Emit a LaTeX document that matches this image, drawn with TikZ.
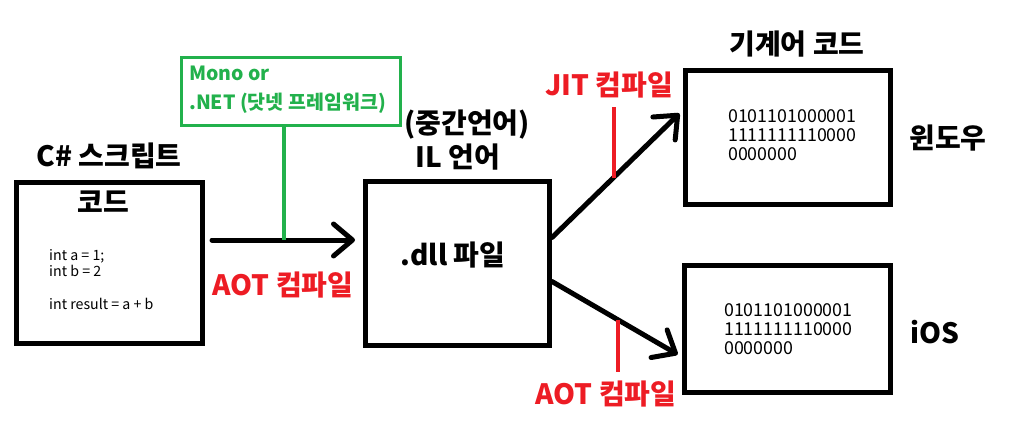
\documentclass[tikz,border=0pt]{standalone}
\usepackage{fontspec}
\setmainfont{Noto Sans CJK KR}
\usetikzlibrary{arrows.meta,positioning}
\definecolor{paintred}{HTML}{ED1C24}
\definecolor{paintgreen}{HTML}{22B14C}

\begin{document}
\begin{tikzpicture}[x=1pt,y=-1pt,
  box/.style={draw,line width=5pt,inner sep=0pt},
  monobox/.style={draw=paintgreen,line width=3.5pt,inner sep=0pt},
  title/.style={font=\bfseries\fontsize{28}{32}\selectfont,inner sep=1pt},
  redlbl/.style={title,text=paintred},
  greenlbl/.style={font=\bfseries\fontsize{19.5}{22}\selectfont,text=paintgreen,anchor=west,inner sep=0pt},
  codetxt/.style={font=\fontsize{14.2}{16.5}\selectfont,align=left,anchor=north west,inner sep=0pt},
  bintxt/.style={font=\fontsize{17.8}{19}\selectfont,align=left,anchor=north west,inner sep=0pt},
  arr/.style={line width=5pt,line cap=round,-{Straight Barb[length=19pt,width=32pt,round]}},
  tick/.style={draw=paintred,line width=4pt}]
  \useasboundingbox (0,0) rectangle (1013,431);

  % boxes
  \node[box,minimum width=186pt,minimum height=161pt] (code) at (109,262.5) {};
  \node[box,minimum width=184pt,minimum height=164pt] (dll) at (457.5,263.5) {};
  \node[box,minimum width=205pt,minimum height=134pt] (win) at (788,137.5) {};
  \node[box,minimum width=206pt,minimum height=127pt] (ios) at (787.5,329) {};
  \node[monobox,minimum width=219pt,minimum height=68pt] (mono) at (291,91.5) {};

  % titles and texts
  \node[title] (cstitle) at (109,156) {C\# 스크립트};
  \node[title] (codetitle) at (103,202) {코드};
  \node[codetxt] (codebody) at (49,249) {int a = 1;\\int b = 2\\[16pt]int result = a + b};
  \node[greenlbl] (monotxt) at (189,73) {Mono or};
  \node[greenlbl] (nettxt) at (189,103) {.NET (닷넷 프레임워크)};
  \node[title] (midlang) at (467,125) {(중간언어)};
  \node[title] (illang) at (458,157) {IL 언어};
  \node[title] (dlltxt) at (453,255) {.dll 파일};
  \node[title] (machine) at (797,44) {기계어 코드};
  \node[bintxt] (winbin) at (728,109) {0101101000001\\1111111110000\\0000000};
  \node[bintxt] (iosbin) at (724,303) {0101101000001\\1111111110000\\0000000};
  \node[title] (wintxt) at (948,138) {윈도우};
  \node[title] (iostxt) at (935,332) {iOS};
  \node[redlbl] (aotlbl) at (283,285) {AOT 컴파일};
  \node[redlbl] (jitlbl) at (609,85) {JIT 컴파일};
  \node[redlbl] (aotlbl2) at (606,394) {AOT 컴파일};

  % arrows
  \coordinate (aotstart) at (212,240);
  \draw[arr,shorten >=8pt] (aotstart) -- coordinate[pos=0.48] (aotmid) (aotstart -| dll.west);
  \draw[arr,shorten >=5pt] ([yshift=26pt]dll.east) -- coordinate[pos=0.47] (jitmark) ([yshift=27.5pt]win.west);
  \draw[arr,shorten >=5pt] ([yshift=-18pt]dll.east) -- coordinate[pos=0.505] (aotmark) ([yshift=-28pt]ios.west);

  % marks on the arrows
  \draw[paintgreen,line width=4pt] (mono.south -| aotmid) -- (aotmid);
  \draw[tick] (jitmark) -- ([yshift=-8pt]jitlbl.south -| jitmark);
  \draw[tick] (aotmark) -- ([yshift=8pt]aotlbl2.north -| aotmark);
\end{tikzpicture}
\end{document}
